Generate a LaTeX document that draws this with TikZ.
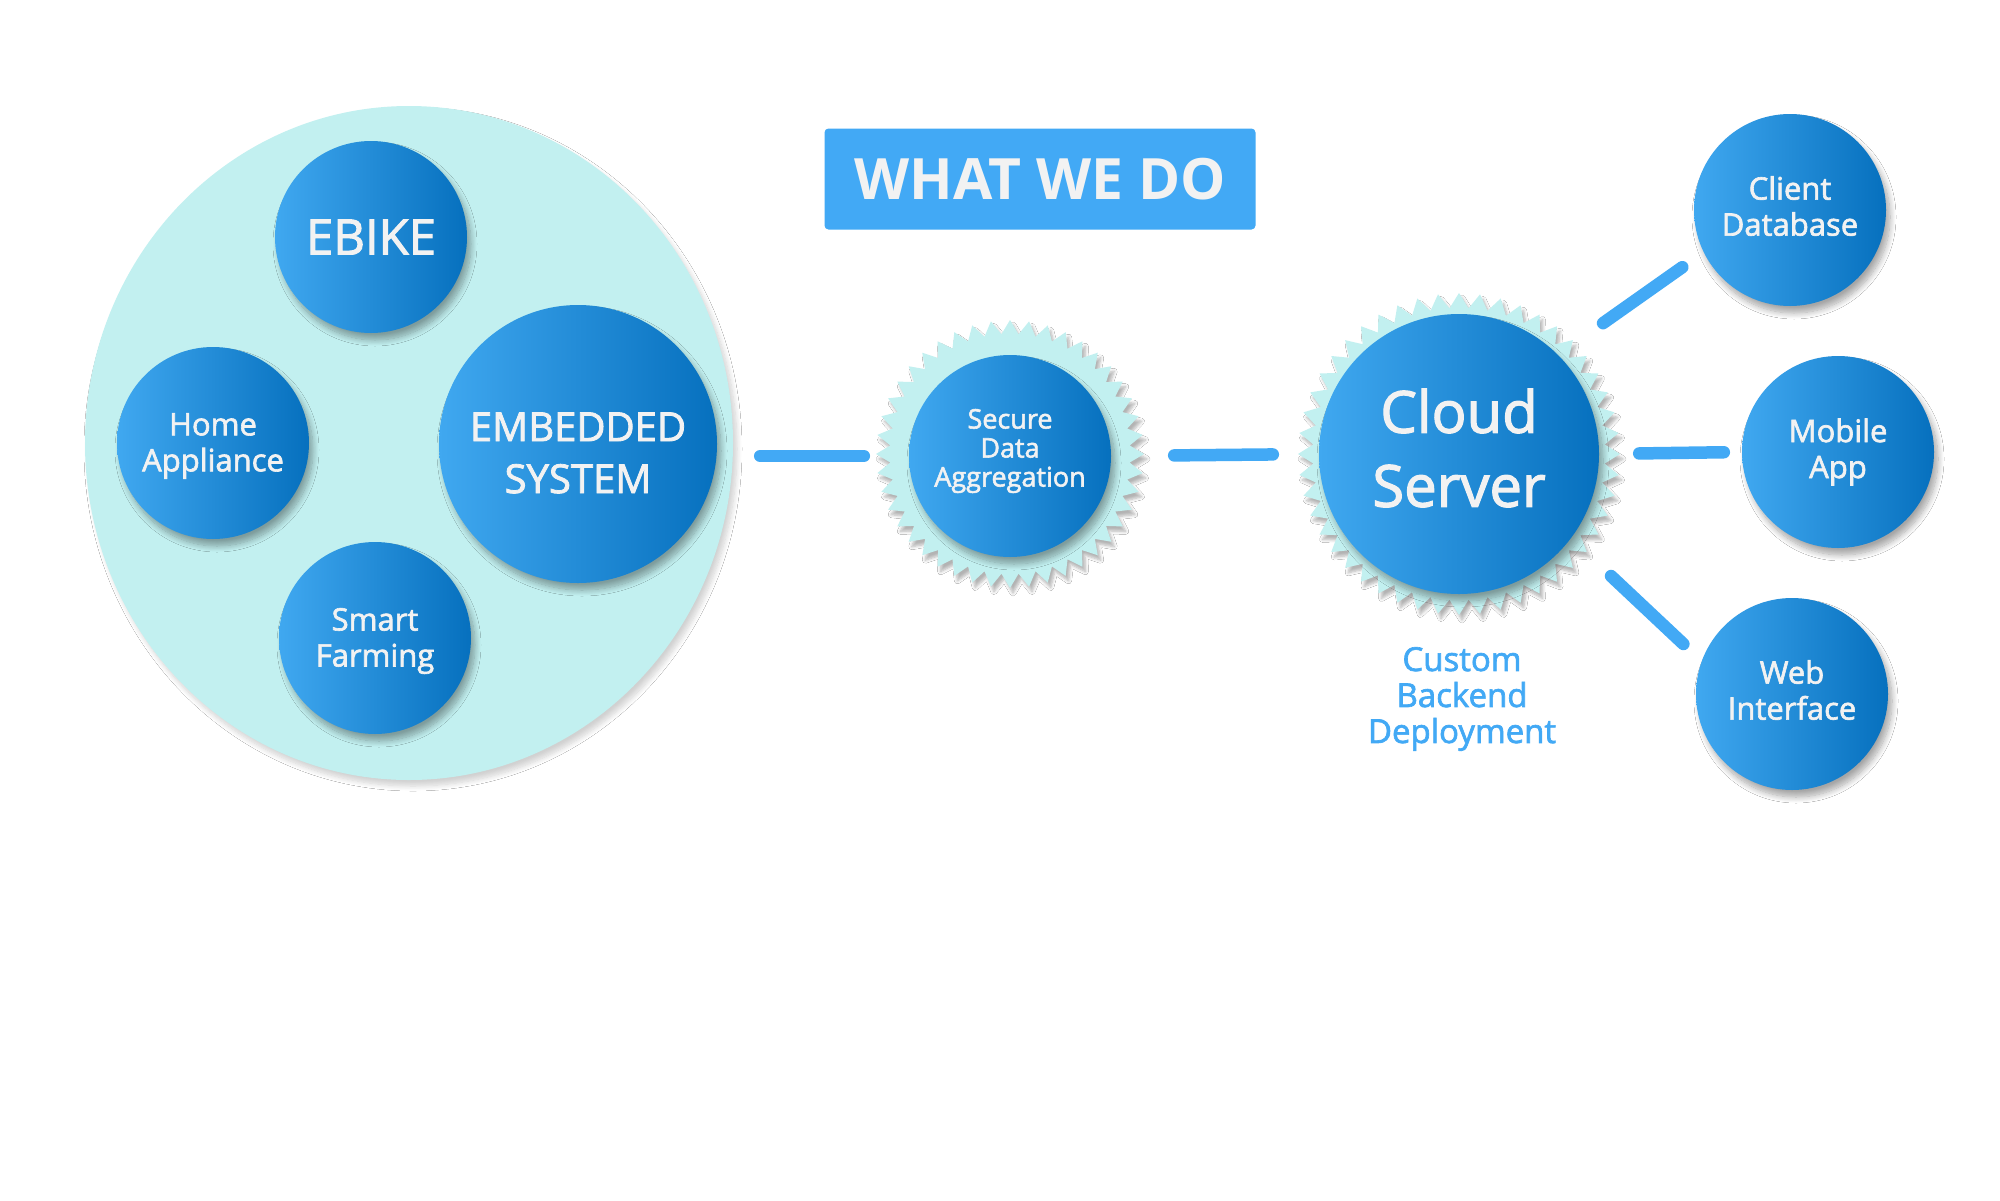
\documentclass[tikz,border=0pt]{standalone}
\usepackage{fontspec}
\setmainfont{Open Sans}
\newfontfamily\osfb[FakeBold=2]{Open Sans}
\usetikzlibrary{shadows.blur,shapes.geometric}
\definecolor{lightc}{HTML}{C2F0F0}
\definecolor{bl}{HTML}{42A9F5}
\definecolor{gl}{HTML}{40A8F0}
\definecolor{gr}{HTML}{0670BE}
\definecolor{txt}{HTML}{F2F2F2}
\tikzset{
  bub/.style={circle, inner sep=0pt, left color=gl, right color=gr,
    blur shadow={shadow xshift=4pt, shadow yshift=-7pt, shadow blur radius=6pt, shadow blur steps=10, shadow opacity=35}},
  btext/.style={text=txt, align=center, inner sep=0pt},
  starsh/.style={blur shadow={shadow xshift=3pt, shadow yshift=-5pt, shadow blur radius=3pt, shadow blur steps=6, shadow opacity=30}},
  conn/.style={line width=12.5pt, draw=bl, line cap=round},
  small/.style={font=\osfb\fontsize{31}{36}\selectfont}
}
% #1,#2 centre; #3 outer radius; #4 inner radius; #5 number of teeth; #6 = 2*#5-1
\newcommand{\starburst}[6]{%
  \fill[lightc, starsh, shift={(#1,#2)}] plot[variable=\k, samples at={0,...,#6}]
    ({ifthenelse(mod(\k,2)==0,#3,#4)*cos(\k*(180/#5))},
     {ifthenelse(mod(\k,2)==0,#3,#4)*sin(\k*(180/#5))}) -- cycle;}
\begin{document}
\begin{tikzpicture}[x=1pt,y=-1pt]
\useasboundingbox[fill=white] (0,0) rectangle (2000,1200);
% left cluster
\node[ellipse, fill=lightc, minimum width=648pt, minimum height=674pt, inner sep=0pt,
  blur shadow={shadow xshift=4pt, shadow yshift=-6pt, shadow blur radius=5pt, shadow blur steps=8, shadow opacity=18}] (big) at (409,443) {};
\node[bub, minimum size=192pt] (ebike) at (371,237) {};
\node[btext, font=\osfb\fontsize{49}{56}\selectfont] (ebiket) at (ebike) {EBIKE};
\node[bub, minimum size=192pt] (home) at (213,443) {};
\node[btext, small] (homet) at ([yshift=-3pt]home.center) {Home\\Appliance};
\node[bub, minimum size=192pt] (smart) at (375,638) {};
\node[btext, small] (smartt) at ([yshift=-3pt]smart.center) {Smart\\Farming};
\node[bub, minimum size=278pt] (emb) at (578,444) {};
\node[btext, font=\osfb\fontsize{40}{52}\selectfont] (embt) at ([yshift=-9pt]emb.center) {EMBEDDED\\SYSTEM};
% title
\node[fill=bl, rounded corners=4pt, minimum width=431pt, minimum height=101pt, text=txt,
  font=\bfseries\fontsize{57}{60}\selectfont] (title) at (1040,179) {WHAT WE DO};
% secure data
\starburst{1010}{454}{134}{120}{44}{87}
\node[bub, minimum size=202pt] (sec) at (1010,456) {};
\node[btext, font=\osfb\fontsize{27}{29}\selectfont] (sect) at ([yshift=5pt]sec.center) {Secure\\Data\\Aggregation};
% cloud
\starburst{1459}{454}{161}{146}{48}{95}
\node[bub, minimum size=280pt] (cloud) at (1459,454) {};
\node[btext, font=\osfb\fontsize{58}{74}\selectfont] (cloudt) at ([yshift=6pt]cloud.center) {Cloud\\Server};
\node[text=bl, align=center, inner sep=0pt, font=\osfb\fontsize{33}{36}\selectfont] (custom) at (1462,699) {Custom\\Backend\\Deployment};
% right
\node[bub, minimum size=192pt] (client) at (1790,210) {};
\node[btext, small] (clientt) at ([yshift=4pt]client.center) {Client\\Database};
\node[bub, minimum size=192pt] (mobile) at (1838,452) {};
\node[btext, small] (mobilet) at (mobile) {Mobile\\App};
\node[bub, minimum size=192pt] (web) at (1792,694) {};
\node[btext, small] (webt) at ([yshift=4pt]web.center) {Web\\Interface};
% connectors
\draw[conn, shorten <=27pt, shorten >=45pt] (big.east |- sec.west) -- (sec.west);
\draw[conn, shorten <=63pt, shorten >=46pt] (sec.east) -- (cloud.west);
\draw[conn, shorten <=40pt, shorten >=18pt] (cloud.east) -- (mobile.west);
\draw[conn, shorten <=55pt, shorten >=26pt] (cloud.45.3) -- (client.206.8);
\draw[conn, shorten <=55pt, shorten >=25pt] (cloud.-37.7) -- (web.160.7);
\end{tikzpicture}
\end{document}
